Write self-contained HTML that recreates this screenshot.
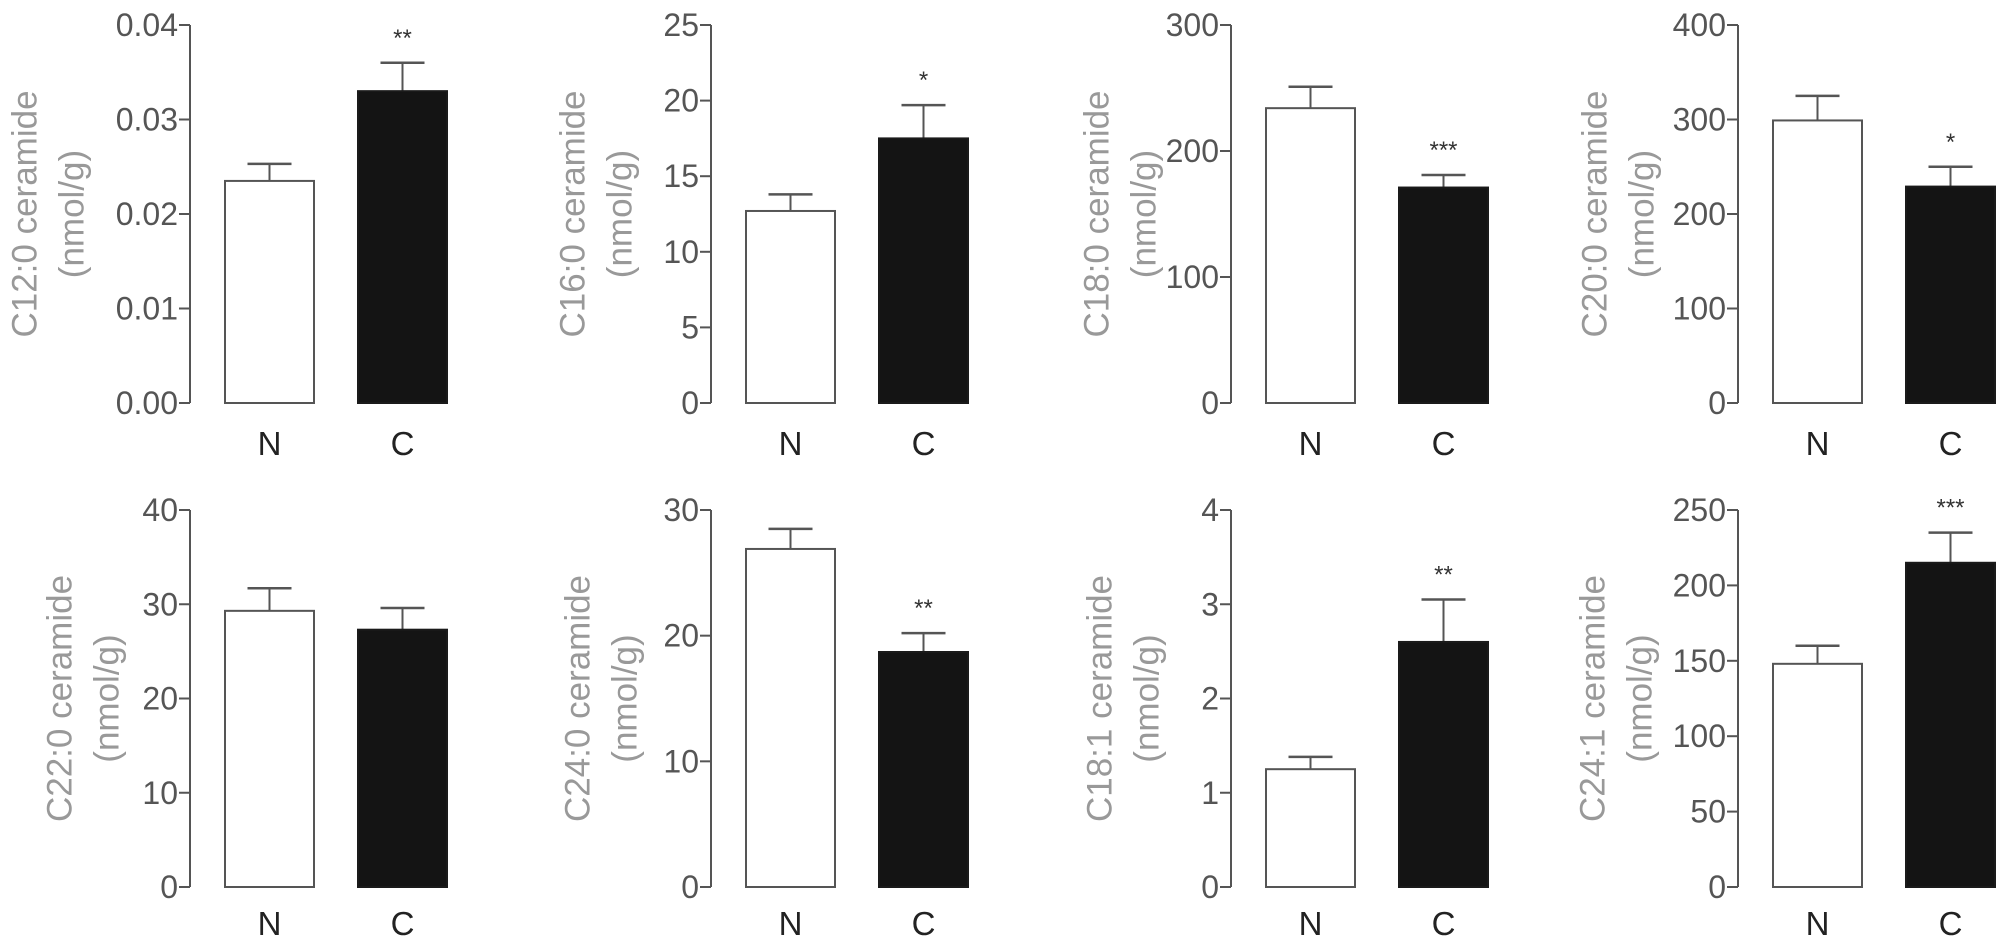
<!DOCTYPE html>
<html><head><meta charset="utf-8"><style>
html,body{margin:0;padding:0;background:#fff;}
svg{display:block;font-family:"Liberation Sans",Arial,sans-serif;}
</style></head><body>
<svg id="fig" width="2008" height="945" viewBox="0 0 2008 945" xmlns="http://www.w3.org/2000/svg"></svg>
<script>
const titles = ["C12:0 ceramide","C16:0 ceramide","C18:0 ceramide","C20:0 ceramide","C22:0 ceramide","C24:0 ceramide","C18:1 ceramide","C24:1 ceramide"];
const categories = ["N","C"];
const yMax = [0.04,25,300,400,40,30,4,250];
const tickLabels = [
 ["0.00","0.01","0.02","0.03","0.04"],
 ["0","5","10","15","20","25"],
 ["0","100","200","300"],
 ["0","100","200","300","400"],
 ["0","10","20","30","40"],
 ["0","10","20","30"],
 ["0","1","2","3","4"],
 ["0","50","100","150","200","250"]
];
const valuesN = [0.0235,12.7,234,299,29.3,26.9,1.25,148];
const valuesC = [0.033,17.5,171,229,27.3,18.7,2.6,215];
const errN = [0.0018,1.1,17,26,2.4,1.6,0.13,12];
const errC = [0.003,2.2,10,21,2.3,1.5,0.45,20];
const stars = ["**","*","***","*","","**","**","***"];

const svg = document.getElementById('fig');
const NS = "http://www.w3.org/2000/svg";
function mk(tag, attrs, parent){
  const e = document.createElementNS(NS, tag);
  for (const k in attrs) e.setAttribute(k, attrs[k]);
  (parent||svg).appendChild(e);
  return e;
}
const axisX = [190,711,1231,1738];
const titleX1 = [25,573,1097,1595,60,578,1100,1593];
const rows = [{top:25,bottom:403,lab:443},{top:510,bottom:887,lab:923}];

for (let p=0;p<8;p++){
  const r = rows[Math.floor(p/4)];
  const ax = axisX[p%4];
  const y = v => r.bottom - v / yMax[p] * (r.bottom - r.top);
  const g = mk('g',{});
  
  
  const axl = mk('line',{x1:ax,y1:r.top,x2:ax,y2:r.bottom,stroke:'#555','stroke-width':2},g);
  
  
  const tl = tickLabels[p];
  for (let i=0;i<tl.length;i++){
    const v = parseFloat(tl[i]);
    const ty = y(v);
    const tk = mk('line',{x1:ax-11,y1:ty,x2:ax,y2:ty,stroke:'#555','stroke-width':2},g);
    
    
    const t = mk('text',{x:ax-12,y:ty+11,'text-anchor':'end','font-size':32,fill:'#555'},g);
    t.textContent = tl[i];
    
    
  }
  const cy = (r.top + r.bottom)/2;
  const t1 = mk('text',{x:titleX1[p],y:cy,'text-anchor':'middle','dominant-baseline':'central','font-size':35,fill:'#999',transform:'rotate(-90 '+titleX1[p]+' '+cy+')'},g);
  t1.textContent = titles[p];
  
  
  const x2 = titleX1[p]+47;
  const t2 = mk('text',{x:x2,y:cy,'text-anchor':'middle','dominant-baseline':'central','font-size':35,fill:'#999',transform:'rotate(-90 '+x2+' '+cy+')'},g);
  t2.textContent = "(nmol/g)";
  
  
  const vals = [valuesN[p],valuesC[p]];
  const errs = [errN[p],errC[p]];
  for (let b=0;b<2;b++){
    const bx = ax + (b===0?35:168);
    const bw = 89;
    const cx = bx + bw/2;
    const top = y(vals[b]);
    const capY = y(vals[b]+errs[b]);
    const el = mk('line',{x1:cx,y1:top,x2:cx,y2:capY,stroke:'#555','stroke-width':2},g);
    
    
    const cap = mk('line',{x1:cx-22,y1:capY,x2:cx+22,y2:capY,stroke:'#555','stroke-width':2.5},g);
    
    
    const rect = mk('rect',{x:bx,y:top,width:bw,height:r.bottom-top,fill:b===0?'#fff':'#141414',stroke:b===0?'#555':'#1a1a1a','stroke-width':2},g);
    
    
    const lab = mk('text',{x:cx,y:r.lab+12,'text-anchor':'middle','font-size':33,fill:'#222'},g);
    lab.textContent = categories[b];
    
    
    if (b===1 && stars[p]){
      const s = mk('text',{x:cx,y:capY-31+14,'text-anchor':'middle','font-size':24,fill:'#333'},g);
      s.textContent = stars[p];
      
      
    }
  }
}
</script>
</body></html>
